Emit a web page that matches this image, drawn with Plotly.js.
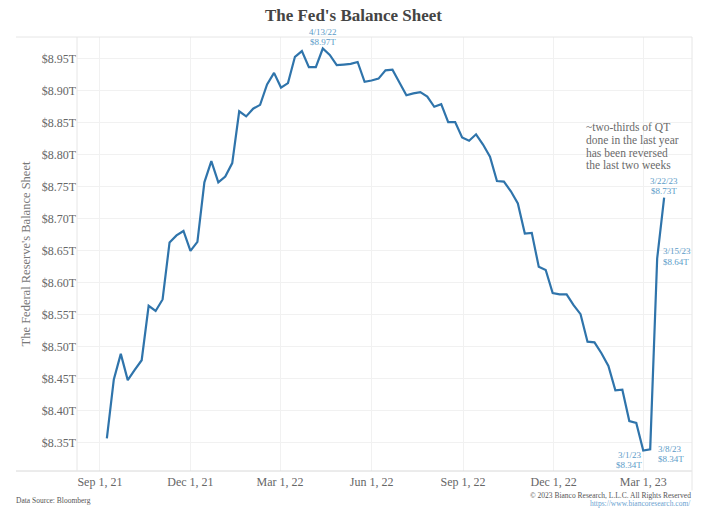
<!DOCTYPE html>
<html>
<head>
<meta charset="utf-8">
<script src="https://cdn.plot.ly/plotly-3.0.1.min.js"></script>
<style>html,body{margin:0;padding:0;background:#fff;}#chart{width:714px;height:508px;}</style>
</head>
<body>
<div id="chart"></div>
<script>
// Weekly dates (Wednesdays) of the Fed's balance sheet
const dates = [
 '2021-09-08','2021-09-15','2021-09-22','2021-09-29','2021-10-06','2021-10-13','2021-10-20','2021-10-27',
 '2021-11-03','2021-11-10','2021-11-17','2021-11-24','2021-12-01','2021-12-08','2021-12-15','2021-12-22','2021-12-29',
 '2022-01-05','2022-01-12','2022-01-19','2022-01-26','2022-02-02','2022-02-09','2022-02-16','2022-02-23',
 '2022-03-02','2022-03-09','2022-03-16','2022-03-23','2022-03-30','2022-04-06','2022-04-13','2022-04-20','2022-04-27',
 '2022-05-04','2022-05-11','2022-05-18','2022-05-25','2022-06-01','2022-06-08','2022-06-15','2022-06-22','2022-06-29',
 '2022-07-06','2022-07-13','2022-07-20','2022-07-27','2022-08-03','2022-08-10','2022-08-17','2022-08-24','2022-08-31',
 '2022-09-07','2022-09-14','2022-09-21','2022-09-28','2022-10-05','2022-10-12','2022-10-19','2022-10-26',
 '2022-11-02','2022-11-09','2022-11-16','2022-11-23','2022-11-30','2022-12-07','2022-12-14','2022-12-21','2022-12-28',
 '2023-01-04','2023-01-11','2023-01-18','2023-01-25','2023-02-01','2023-02-08','2023-02-15','2023-02-22',
 '2023-03-01','2023-03-08','2023-03-15','2023-03-22'
];
// Total assets, trillions of dollars
const balance = [
 8.357,8.449,8.489,8.448,8.464,8.479,8.564,8.556,
 8.574,8.663,8.674,8.681,8.650,8.664,8.757,8.790,8.757,
 8.766,8.787,8.868,8.860,8.872,8.878,8.910,8.928,
 8.905,8.912,8.953,8.962,8.937,8.937,8.966,8.956,8.940,
 8.941,8.942,8.945,8.914,8.916,8.919,8.932,8.933,8.913,
 8.893,8.896,8.898,8.891,8.875,8.879,8.851,8.851,8.827,
 8.822,8.832,8.816,8.797,8.759,8.758,8.743,8.724,
 8.677,8.678,8.625,8.620,8.584,8.582,8.582,8.565,8.551,
 8.508,8.507,8.490,8.470,8.432,8.433,8.384,8.381,
 8.338,8.340,8.638,8.733
];
// Callout points
const calloutDates = ['2022-04-13','2023-03-22','2023-03-15','2023-03-08','2023-03-01'];
const calloutDateText = ['4/13/22','3/22/23','3/15/23','3/8/23','3/1/23'];
const calloutValueText = ['$8.97T','$8.73T','$8.64T','$8.34T','$8.34T'];

const xTickVals = ['2021-09-01','2021-12-01','2022-03-01','2022-06-01','2022-09-01','2022-12-01','2023-03-01'];
const xTickText = ['Sep 1, 21','Dec 1, 21','Mar 1, 22','Jun 1, 22','Sep 1, 22','Dec 1, 22','Mar 1, 23'];
const yTickVals = [8.35,8.40,8.45,8.50,8.55,8.60,8.65,8.70,8.75,8.80,8.85,8.90,8.95];
const yTickText = ['$8.35T','$8.40T','$8.45T','$8.50T','$8.55T','$8.60T','$8.65T','$8.70T','$8.75T','$8.80T','$8.85T','$8.90T','$8.95T'];

const noteLines = ['~two-thirds of QT','done in the last year','has been reversed','the last two weeks'];

const FONT = 'Liberation Serif, Georgia, serif';
const LINE = '#2f74ab';
const LBL = '#5b9bc8';

function valueAt(d){ return balance[dates.indexOf(d)]; }

// callout placement: anchor, x offset, y offsets (date line, value line) in pixels
const calloutStyle = [
  {xanchor:'center', xshift:0, dy:[17, 6.5]},
  {xanchor:'center', xshift:0, dy:[17, 6.5]},
  {xanchor:'left', xshift:5, dy:[7.2, -3.3]},
  {xanchor:'left', xshift:7, dy:[0.3, -10.2]},
  {xanchor:'right', xshift:0, dy:[-4, -14.5]}
];

const annotations = [];
calloutDates.forEach((d,i)=>{
  const s = calloutStyle[i];
  [calloutDateText[i], calloutValueText[i]].forEach((t,k)=>{
    annotations.push({x:d, y:valueAt(d), xref:'x', yref:'y', text:t, showarrow:false,
      xanchor:s.xanchor, yanchor:'middle', xshift:s.xshift, yshift:s.dy[k], borderpad:0,
      font:{family:FONT, size:9, color:LBL}});
  });
});

const plotTop = 37, plotBot = 471;
const noteY = [127, 140, 152.5, 164.5];
noteLines.forEach((t,i)=>{
  annotations.push({xref:'paper', yref:'paper', x:(585-77)/615, y:(plotBot-noteY[i])/(plotBot-plotTop),
    xanchor:'left', yanchor:'middle', text:t, showarrow:false, borderpad:0, font:{family:FONT, size:11.5, color:'#6a6a6a'}});
});

annotations.push({xref:'paper', yref:'paper', x:(14-77)/615, y:-(500-471)/434, xanchor:'left', yanchor:'middle',
  text:'Data Source: Bloomberg', showarrow:false, font:{family:FONT, size:7.5, color:'#555'}});
annotations.push({xref:'paper', yref:'paper', x:1, y:-(496-471)/434, xanchor:'right', yanchor:'middle',
  text:'© 2023 Bianco Research, L.L.C. All Rights Reserved', showarrow:false, borderpad:0, font:{family:FONT, size:7.5, color:'#555'}});
annotations.push({xref:'paper', yref:'paper', x:1, y:-(503.5-471)/434, xanchor:'right', yanchor:'middle',
  text:'https://www.biancoresearch.com/', showarrow:false, borderpad:0, font:{family:FONT, size:7.5, color:'#6a9fd0'}});

const frame = '#e6e6e6';
const shapes = [
  {type:'line', xref:'paper', yref:'paper', x0:-0.0992, x1:1, y0:1, y1:1, line:{color:frame, width:1}},
  {type:'line', xref:'paper', yref:'paper', x0:-0.0992, x1:1, y0:0, y1:0, line:{color:'#d8d8d8', width:1}},
  {type:'line', xref:'paper', yref:'paper', x0:0, x1:0, y0:0, y1:1, line:{color:frame, width:1}},
  {type:'line', xref:'paper', yref:'paper', x0:1, x1:1, y0:-0.045, y1:1, line:{color:frame, width:1}}
];

const trace = {
  x:dates, y:balance, type:'scatter', mode:'lines',
  line:{color:LINE, width:2.2}, hoverinfo:'skip'
};

const layout = {
  width:714, height:508,
  margin:{l:77, r:22, t:37, b:37},
  paper_bgcolor:'#fff', plot_bgcolor:'#fff',
  font:{family:FONT, color:'#666'},
  showlegend:false,
  title:{text:"<b>The Fed's Balance Sheet</b>", x:0.495, xanchor:'center', y:0.97, yanchor:'middle',
    font:{family:FONT, size:17, color:'#444'}},
  xaxis:{type:'date', range:['2021-08-09','2023-04-19'], tickvals:xTickVals, ticktext:xTickText,
    showgrid:true, gridcolor:'#f1f1f1', gridwidth:1, zeroline:false, showline:false, ticks:'',
    ticklabelstandoff:2,
    tickfont:{family:FONT, size:12, color:'#666'}},
  yaxis:{range:[8.306, 8.984], tickvals:yTickVals, ticktext:yTickText,
    showgrid:true, gridcolor:'#f1f1f1', gridwidth:1, zeroline:false, showline:false, ticks:'',
    tickfont:{family:FONT, size:12, color:'#666'},
    title:{text:"The Federal Reserve's Balance Sheet", standoff:8, font:{family:FONT, size:12.5, color:'#777'}}},
  annotations:annotations,
  shapes:shapes
};

Plotly.newPlot('chart', [trace], layout, {staticPlot:true, displayModeBar:false});
</script>
</body>
</html>
